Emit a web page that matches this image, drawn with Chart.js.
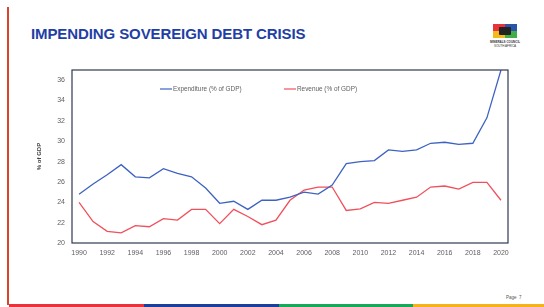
<!DOCTYPE html>
<html>
<head>
<meta charset="utf-8">
<script src="https://cdn.jsdelivr.net/npm/chart.js@4.4.0/dist/chart.umd.min.js"></script>
<style>
  html, body { margin: 0; padding: 0; background: #fff; }
  body { width: 544px; height: 307px; position: relative; overflow: hidden; font-family: "Liberation Sans", Arial, sans-serif; }
  #wrap { position: absolute; left: 0; top: 0; width: 544px; height: 307px; }
  .title { position: absolute; left: 31px; top: 25px; font-size: 15px; font-weight: bold; color: #1f3fa6; letter-spacing: -0.1px; }
  .sidebar { position: absolute; left: 7px; top: 7px; width: 2px; height: 298px; background: #d8452b; }
  .stripe { position: absolute; top: 304px; height: 3px; }
  .logo { position: absolute; left: 493px; top: 24px; width: 24px; height: 14px; }
  .logo div { position: absolute; width: 12px; height: 7px; }
  .logo .m { left: 6px; top: 3px; width: 12px; height: 8px; background: #222; border-radius: 1px; }
  .logo-txt { position: absolute; left: 487px; top: 41px; width: 36px; text-align: center; font-size: 3px; font-weight: bold; color: #333; line-height: 3.5px; }
  .page { position: absolute; left: 506px; top: 295px; font-size: 4.5px; color: #555; }
</style>
</head>
<body>
<div class="sidebar"></div>
<div class="title">IMPENDING SOVEREIGN DEBT CRISIS</div>
<div class="logo">
  <div style="left:0;top:0;background:#e8333c"></div>
  <div style="left:12px;top:0;background:#2b53a7"></div>
  <div style="left:0;top:7px;background:#f6b91c"></div>
  <div style="left:12px;top:7px;background:#3fae49"></div>
  <div class="m"></div>
</div>
<div class="logo-txt">MINERALS COUNCIL<br><span style="font-weight:normal">SOUTH AFRICA</span></div>
<div class="page">Page &nbsp;7</div>
<div class="stripe" style="left:9px;width:135px;background:#e8333c"></div>
<div class="stripe" style="left:144px;width:135px;background:#1d3f9c"></div>
<div class="stripe" style="left:279px;width:134px;background:#17a85a"></div>
<div class="stripe" style="left:413px;width:131px;background:#f5b21a"></div>
<div id="wrap"><canvas id="debtChart"></canvas></div>
<script>
  const years = [];
  for (let y = 1990; y <= 2020; y++) years.push(String(y));

  const expenditure = [
    24.8, 25.8, 26.7, 27.7, 26.5, 26.4, 27.3, 26.85, 26.5, 25.4,
    23.9, 24.1, 23.3, 24.2, 24.2, 24.5, 25.0, 24.8, 25.7, 27.8,
    28.0, 28.1, 29.15, 29.0, 29.15, 29.8, 29.9, 29.7, 29.8, 32.3,
    37.0,
  ];
  const revenue = [
    24.0, 22.1, 21.15, 21.0, 21.7, 21.6, 22.4, 22.25, 23.3, 23.3,
    21.9, 23.3, 22.6, 21.8, 22.25, 24.2, 25.2, 25.5, 25.5, 23.2,
    23.35, 24.0, 23.9, 24.2, 24.5, 25.5, 25.6, 25.3, 25.95, 25.95,
    24.2,
  ];
  const yTicks = [20, 22, 24, 26, 28, 30, 32, 34, 36];

  const textColor = "#606060";
  const tickFont = { family: "'Liberation Sans', Arial, sans-serif", size: 7 };

  // frame around plot + legend drawn inside it
  const framePlugin = {
    id: "frame",
    afterDraw(chart) {
      const ctx = chart.ctx;
      const a = chart.chartArea;
      ctx.save();
      ctx.strokeStyle = "#2f3a4f";
      ctx.lineWidth = 1.2;
      ctx.strokeRect(a.left, a.top, a.right - a.left, a.bottom - a.top);

      const spots = [88, 212];
      ctx.font = "6.4px 'Liberation Sans', Arial, sans-serif";
      ctx.textBaseline = "middle";
      chart.data.datasets.forEach(function (ds, i) {
        const x = a.left + spots[i];
        const y = a.top + 19;
        ctx.strokeStyle = ds.borderColor;
        ctx.lineWidth = 1.2;
        ctx.beginPath();
        ctx.moveTo(x, y);
        ctx.lineTo(x + 12, y);
        ctx.stroke();
        ctx.fillStyle = textColor;
        ctx.fillText(ds.label, x + 13, y + 0.5);
      });
      ctx.restore();
    },
  };

  new Chart(document.getElementById("debtChart"), {
    type: "line",
    data: {
      labels: years,
      datasets: [
        {
          label: "Expenditure (% of GDP)",
          data: expenditure,
          borderColor: "#3d62c0",
          borderWidth: 1.3,
          pointRadius: 0,
          tension: 0,
        },
        {
          label: "Revenue (% of GDP)",
          data: revenue,
          borderColor: "#f0505c",
          borderWidth: 1.3,
          pointRadius: 0,
          tension: 0,
        },
      ],
    },
    options: {
      responsive: true,
      maintainAspectRatio: false,
      animation: false,
      layout: { padding: { left: 30, right: 36, top: 70, bottom: 40 } },
      plugins: {
        legend: { display: false },
        tooltip: { enabled: false },
      },
      scales: {
        x: {
          offset: true,
          grid: { display: false, drawTicks: false },
          border: { display: false },
          ticks: {
            autoSkip: false,
            maxRotation: 0,
            padding: 6,
            color: textColor,
            font: tickFont,
            callback: function (v, i) {
              return i % 2 === 0 ? years[i] : "";
            },
          },
          afterFit: function (s) { s.height = 24; },
        },
        y: {
          min: 20,
          max: 37,
          grid: { display: false, drawTicks: false },
          border: { display: false },
          ticks: { padding: 7, color: textColor, font: tickFont },
          afterBuildTicks: function (s) {
            s.ticks = yTicks.map(function (v) { return { value: v }; });
          },
          title: {
            display: true,
            text: "% of GDP",
            color: "#404040",
            font: { family: "'Liberation Sans', Arial, sans-serif", size: 6, weight: "bold" },
            padding: { top: 6, bottom: 0 },
          },
          afterFit: function (s) { s.width = 42; },
        },
      },
    },
    plugins: [framePlugin],
  });
</script>
</body>
</html>
